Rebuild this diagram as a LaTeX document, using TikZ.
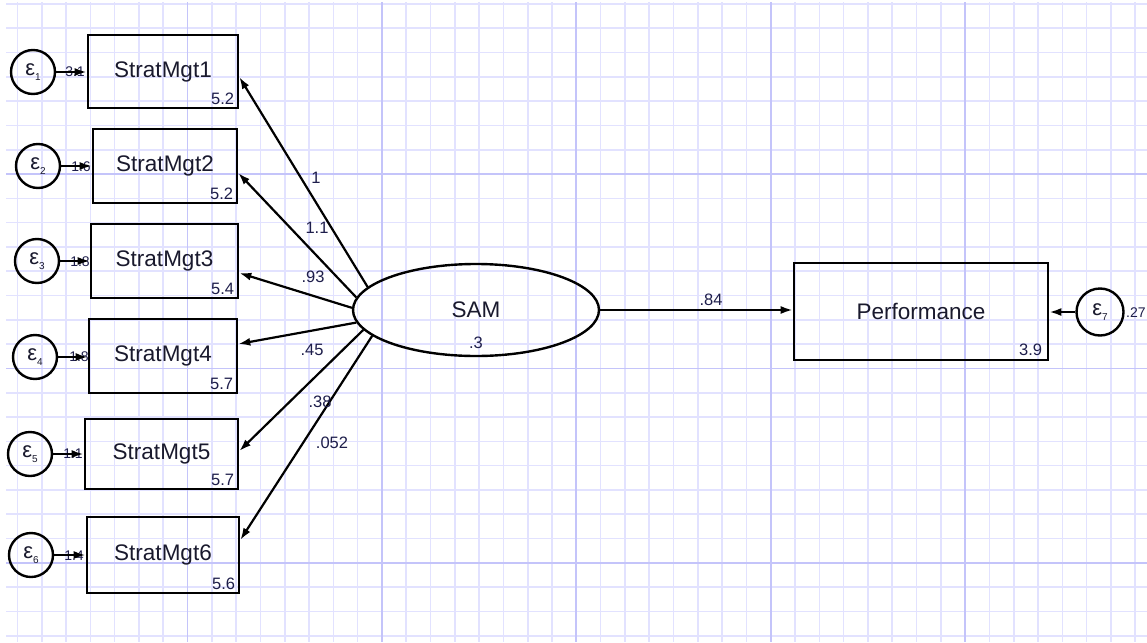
\documentclass[tikz,border=0pt]{standalone}
\usepackage{fontspec}
\setmainfont{Liberation Sans}
\usetikzlibrary{arrows.meta,shapes.geometric,calc}
\definecolor{minorgrid}{RGB}{226,226,255}
\definecolor{majorgrid}{RGB}{196,196,250}
\definecolor{txt}{RGB}{25,25,45}
\definecolor{numtxt}{RGB}{30,30,75}
\newcommand\errlab[1]{ε\raisebox{-0.2em}{\fontsize{10}{10}\selectfont #1}}
\tikzset{
  obs/.style={draw=black, line width=2.6pt, inner sep=0pt, text=txt,
    font=\fontsize{22.5}{26}\selectfont},
  latent/.style={draw=black, ellipse, line width=2.4pt, inner sep=0pt, text=txt,
    font=\fontsize{22.5}{26}\selectfont},
  errc/.style={draw=black, circle, line width=2.4pt, inner sep=0pt, minimum size=44pt,
    text=txt, font=\fontsize{22}{22}\selectfont},
  num/.style={inner sep=0pt, text=numtxt, font=\fontsize{16.5}{18}\selectfont},
  varlab/.style={inner sep=0pt, text=numtxt, font=\fontsize{14}{16}\selectfont},
  path/.style={draw=black, line width=2.2pt, -{Latex[length=12pt,width=8pt]}},
}
\begin{document}
\begin{tikzpicture}[x=1pt,y=-1pt]
\useasboundingbox (0,0) rectangle (1147,642);
\fill[white] (0,0) rectangle (1147,642);
% grid
\begin{scope}
\clip (6,3) rectangle (1147,642);
\foreach \i in {-7,...,39} \draw[minorgrid, line width=1.6pt] ({187.5+24.3*\i},0) -- ++(0,642);
\foreach \i in {-7,...,19} \draw[minorgrid, line width=1.6pt] (0,{174+24.3*\i}) -- ++(1147,0);
\foreach \i in {0,...,4} \draw[majorgrid, line width=1.8pt] ({187.5+194.4*\i},0) -- ++(0,642);
\foreach \i in {0,...,2} \draw[majorgrid, line width=1.8pt] (0,{174+194.4*\i}) -- ++(1147,0);
\end{scope}

% observed boxes
\node[obs, minimum width=150pt, minimum height=73pt] (b1) at (163,71.5) {StratMgt1};
\node[obs, minimum width=144pt, minimum height=74pt] (b2) at (165,166) {StratMgt2};
\node[obs, minimum width=147pt, minimum height=74pt] (b3) at (164.5,261) {StratMgt3};
\node[obs, minimum width=148pt, minimum height=74pt] (b4) at (163,356) {StratMgt4};
\node[obs, minimum width=153pt, minimum height=70pt] (b5) at (161.5,454) {StratMgt5};
\node[obs, minimum width=152pt, minimum height=76pt] (b6) at (163,555) {StratMgt6};
\node[obs, minimum width=254pt, minimum height=97pt] (perf) at (921,311.5) {Performance};

% intercepts
\node[num, anchor=base east] (i1) at ($(b1.south east)+(-5,-5)$) {5.2};
\node[num, anchor=base east] (i2) at ($(b2.south east)+(-5,-5)$) {5.2};
\node[num, anchor=base east] (i3) at ($(b3.south east)+(-5,-5)$) {5.4};
\node[num, anchor=base east] (i4) at ($(b4.south east)+(-5,-5)$) {5.7};
\node[num, anchor=base east] (i5) at ($(b5.south east)+(-5,-5)$) {5.7};
\node[num, anchor=base east] (i6) at ($(b6.south east)+(-5,-5)$) {5.6};
\node[num, anchor=base east] (i7) at ($(perf.south east)+(-7,-6)$) {3.9};

% latent
\node[latent, minimum width=246pt, minimum height=92pt] (sam) at (476,310) {SAM};
\node[num] (samv) at (476,343) {.3};

% error terms
\node[errc] (e1) at (33,72) {\errlab{1}};
\node[errc] (e2) at (38,166) {\errlab{2}};
\node[errc] (e3) at (37,261) {\errlab{3}};
\node[errc] (e4) at (35,357) {\errlab{4}};
\node[errc] (e5) at (30,454) {\errlab{5}};
\node[errc] (e6) at (31,555) {\errlab{6}};
\node[errc, minimum size=47pt] (e7) at (1100,312) {\errlab{7}};

% error variances
\node[varlab] (ve1) at (75,72) {3.1};
\node[varlab] (ve2) at (81,167) {1.6};
\node[varlab] (ve3) at (80,262) {1.8};
\node[varlab] (ve4) at (79,357) {1.8};
\node[varlab] (ve5) at (73,454) {1.1};
\node[varlab] (ve6) at (74,556) {1.4};
\node[varlab, anchor=west] (ve7) at (1126,313) {.27};

% error paths
\draw[path] (e1.east) -- (e1.east -| b1.west);
\draw[path] (e2.east) -- (e2.east -| b2.west);
\draw[path] (e3.east) -- (e3.east -| b3.west);
\draw[path] (e4.east) -- (e4.east -| b4.west);
\draw[path] (e5.east) -- (e5.east -| b5.west);
\draw[path] (e6.east) -- (e6.east -| b6.west);
\draw[path] (e7.west) -- (e7.west -| perf.east);

% loadings
\draw[path] (sam.168) -- ($(b1.east)+(0,5.5)$);
\draw[path] (sam.174) -- ($(b2.east)+(0,7)$);
\draw[path] (sam.179) -- ($(b3.east)+(0,12)$);
\draw[path] (sam.186) -- ($(b4.east)+(0,-12)$);
\draw[path] (sam.190) -- ($(b5.east)+(0,-3)$);
\draw[path] (sam.194) -- ($(b6.east)+(0,-15)$);
\draw[path] (sam.east) -- (sam.east -| perf.west);

% loading labels
\node[num] (l1) at (316,178) {1};
\node[num] (l2) at (317,228) {1.1};
\node[num] (l3) at (313,277) {.93};
\node[num] (l4) at (312,350) {.45};
\node[num] (l5) at (320,402) {.38};
\node[num] (l6) at (332,443) {.052};
\node[num] (l7) at (711,300) {.84};
\end{tikzpicture}
\end{document}
